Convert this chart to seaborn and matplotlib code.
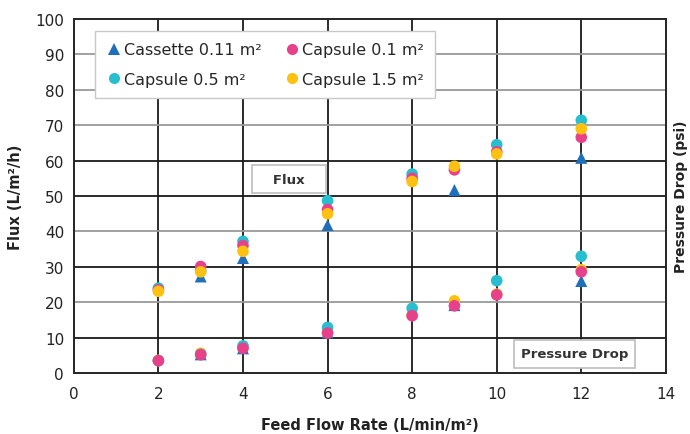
import numpy as np
import pandas as pd
import matplotlib
matplotlib.use("Agg")
import matplotlib.pyplot as plt
import seaborn as sns
from matplotlib.lines import Line2D

# ---- data ----
cassette_x = [3, 4, 6, 9, 12]
cassette_flux = [27.3, 32.5, 41.8, 51.7, 60.8]
cassette_dp = [5.3, 7.0, 11.5, 19.2, 26.0]

cap05_x = [2, 3, 4, 6, 8, 10, 12]
cap05_flux = [24.0, 29.0, 37.2, 48.7, 56.2, 64.5, 71.4]
cap05_dp = [3.5, 5.3, 7.7, 12.9, 18.3, 26.1, 33.0]

cap01_x = [2, 3, 4, 6, 8, 9, 10, 12]
cap01_flux = [23.5, 30.1, 36.0, 46.2, 55.0, 57.4, 62.5, 66.6]
cap01_dp = [3.5, 5.2, 7.0, 11.3, 16.2, 19.0, 22.1, 28.6]

cap15_x = [2, 3, 4, 6, 8, 9, 10, 12]
cap15_flux = [23.1, 28.6, 34.4, 45.0, 54.1, 58.4, 61.9, 69.0]
cap15_dp = [3.6, 5.6, 7.2, 11.6, 16.3, 20.4, 22.3, 29.2]

series_names = ["Cassette 0.11 m²", "Capsule 0.5 m²", "Capsule 0.1 m²", "Capsule 1.5 m²"]
flux_order = ["Cassette 0.11 m²", "Capsule 0.5 m²", "Capsule 0.1 m²", "Capsule 1.5 m²"]
dp_order = ["Cassette 0.11 m²", "Capsule 1.5 m²", "Capsule 0.5 m²", "Capsule 0.1 m²"]
x_ticks = [0, 2, 4, 6, 8, 10, 12, 14]
y_ticks = [0, 10, 20, 30, 40, 50, 60, 70, 80, 90, 100]

# ---- style ----
sns.set_theme(style="white")
plt.rcParams['font.family'] = ['DejaVu Sans']

colors = {"Cassette 0.11 m²": "#1f6fba", "Capsule 0.5 m²": "#27bfcf",
          "Capsule 0.1 m²": "#e8418b", "Capsule 1.5 m²": "#fec10f"}
markers = {"Cassette 0.11 m²": "^", "Capsule 0.5 m²": "o",
           "Capsule 0.1 m²": "o", "Capsule 1.5 m²": "o"}

data = {
    "Cassette 0.11 m²": (cassette_x, cassette_flux, cassette_dp),
    "Capsule 0.5 m²": (cap05_x, cap05_flux, cap05_dp),
    "Capsule 0.1 m²": (cap01_x, cap01_flux, cap01_dp),
    "Capsule 1.5 m²": (cap15_x, cap15_flux, cap15_dp),
}

fig = plt.figure(figsize=(6.9, 4.35), dpi=100)
ax = fig.add_axes([0.107, 0.140, 0.858, 0.814])

# grid lines
for v in x_ticks[1:-1]:
    ax.axvline(v, color="#1a1a1a", lw=1.3, zorder=1)
dark = {10, 30, 50, 60}
for v in y_ticks[1:-1]:
    ax.axhline(v, color="#1a1a1a" if v in dark else "#9a9a9a", lw=1.3, zorder=1)


def draw(name, idx, z):
    xs = data[name][0]
    ys = data[name][idx]
    df = pd.DataFrame({"x": xs, "y": ys})
    sns.scatterplot(data=df, x="x", y="y", ax=ax, color=colors[name],
                    marker=markers[name], s=70 if markers[name] == "o" else 75,
                    edgecolor="none", linewidth=0, zorder=z, legend=False)


for i, name in enumerate(flux_order):
    draw(name, 1, 3 + i * 0.1)
for i, name in enumerate(dp_order):
    draw(name, 2, 3 + i * 0.1)

ax.set_xlim(0, 14)
ax.set_ylim(0, 100)
ax.set_xticks(x_ticks)
ax.set_yticks(y_ticks)
ax.tick_params(axis="both", length=0, labelsize=11, colors="#222222")
ax.tick_params(axis="x", pad=9)
ax.tick_params(axis="y", pad=7)
for s in ax.spines.values():
    s.set_color("#1a1a1a")
    s.set_linewidth(1.2)
ax.set_xlabel("Feed Flow Rate (L/min/m²)", fontsize=10.5, fontweight="bold",
              color="#222222", labelpad=12)
ax.set_ylabel("Flux (L/m²/h)", fontsize=10.5, fontweight="bold",
              color="#222222", labelpad=9)

ax2 = ax.twinx()
ax2.set_ylim(0, 100)
ax2.set_yticks([])
ax2.set_ylabel("Pressure Drop (psi)", fontsize=10, fontweight="bold",
               color="#222222", labelpad=6)

# legend
handles = [Line2D([], [], linestyle="none", marker=markers[n], color=colors[n],
                  markersize=8 if markers[n] == "o" else 8.5, markeredgewidth=0)
           for n in series_names]
leg = ax.legend(handles, series_names, ncol=2, loc="upper left",
                bbox_to_anchor=(0.035, 0.966), borderaxespad=0, fontsize=11.5,
                frameon=True, fancybox=False, edgecolor="#c8c8c8", framealpha=1,
                handletextpad=0.15, columnspacing=1.4, borderpad=0.7,
                labelspacing=0.9, handlelength=1.0)
leg.get_frame().set_linewidth(1.0)
leg.set_zorder(5)

# annotation boxes
ax.text(5.08, 54.8, "   Flux   ", ha="center", va="center", fontsize=9.5,
        fontweight="bold", color="#333333", zorder=4,
        bbox=dict(boxstyle="square,pad=0.55", fc="white", ec="#bdbdbd", lw=1.2))
ax.text(11.84, 5.4, "Pressure Drop", ha="center", va="center", fontsize=9.5,
        fontweight="bold", color="#333333", zorder=4,
        bbox=dict(boxstyle="square,pad=0.55", fc="white", ec="#bdbdbd", lw=1.2))

fig.savefig("out.png", dpi=100)
